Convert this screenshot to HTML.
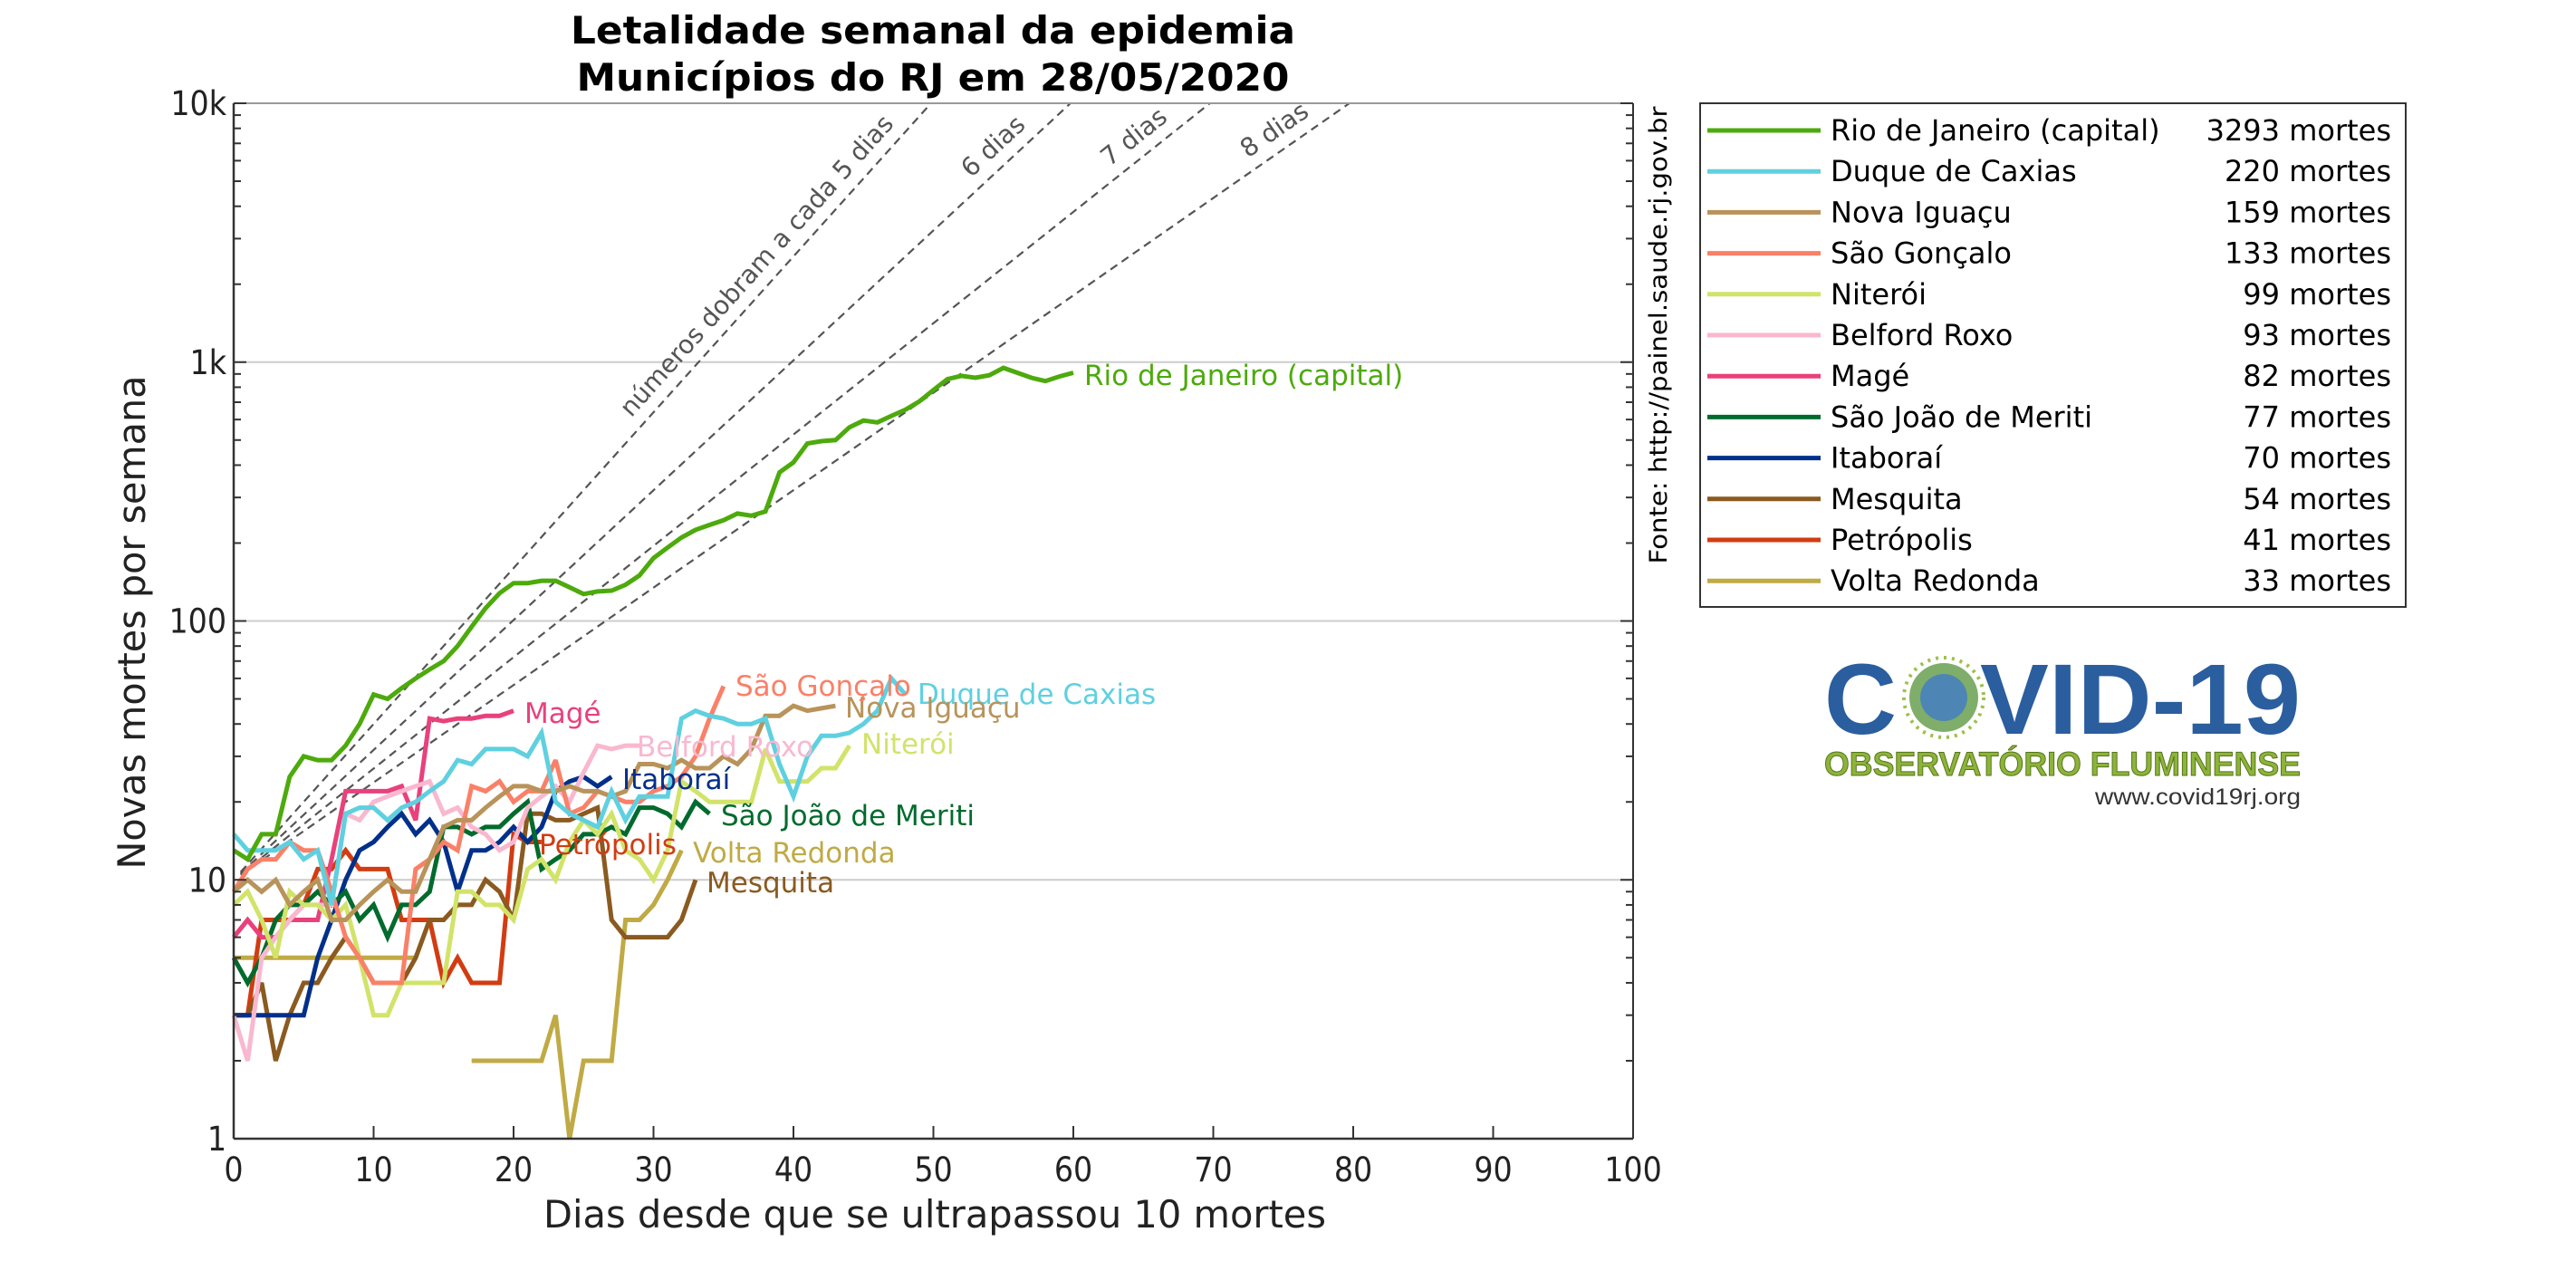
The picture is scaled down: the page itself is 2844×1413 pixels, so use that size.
<!DOCTYPE html>
<html><head><meta charset="utf-8"><title>Letalidade semanal</title>
<style>
html,body{margin:0;padding:0;background:#fff;}
svg{display:block;font-family:"DejaVu Sans","Liberation Sans",sans-serif;}
.cond{font-stretch:condensed;}
</style></head>
<body>
<svg id="chart" width="2844" height="1413" viewBox="0 0 2844 1413" xmlns="http://www.w3.org/2000/svg">
<rect width="2844" height="1413" fill="#fff"/>
<g font-weight="bold" font-size="42" text-anchor="middle" fill="#000" class="cond">
<text x="1030" y="48" textLength="800" lengthAdjust="spacingAndGlyphs">Letalidade semanal da epidemia</text>
<text x="1030" y="100" textLength="787" lengthAdjust="spacingAndGlyphs">Municípios do RJ em 28/05/2020</text>
</g>
<g id="grid"></g>
<g id="refs"></g>
<g id="series"></g>
<g id="axes"></g>
<g id="labels"></g>
<text transform="translate(160,687) rotate(-90)" text-anchor="middle" font-size="42" fill="#222" textLength="545" lengthAdjust="spacingAndGlyphs">Novas mortes por semana</text>
<text x="1032" y="1355" text-anchor="middle" font-size="42" fill="#222" class="cond" textLength="864" lengthAdjust="spacingAndGlyphs">Dias desde que se ultrapassou 10 mortes</text>
<text transform="translate(1840,370) rotate(-90)" text-anchor="middle" font-size="27" fill="#000" textLength="505" lengthAdjust="spacingAndGlyphs">Fonte: http://painel.saude.rj.gov.br</text>
<g id="legend">
<rect x="1877" y="114" width="779" height="556" fill="#fff" stroke="#333" stroke-width="2"/>
</g>
<g>
<text x="2014" y="810" font-family="Liberation Sans, sans-serif" font-weight="bold" font-size="110" fill="#2a5e9e" textLength="80" lengthAdjust="spacingAndGlyphs">C</text>
<circle cx="2146" cy="770" r="38" fill="#7fae6a"/>
<circle cx="2146" cy="770" r="26" fill="#4d86b4"/>
<circle cx="2146" cy="770" r="44" fill="none" stroke="#9cc04a" stroke-width="4" stroke-dasharray="3 6"/>
<text x="2186" y="810" font-family="Liberation Sans, sans-serif" font-weight="bold" font-size="110" fill="#2a5e9e" textLength="354" lengthAdjust="spacingAndGlyphs">VID-19</text>
<text x="2014" y="856" font-family="Liberation Sans, sans-serif" font-weight="bold" font-size="37" fill="#8cb43a" stroke="#56741a" stroke-width="1" textLength="526" lengthAdjust="spacingAndGlyphs">OBSERVATÓRIO FLUMINENSE</text>
<text x="2540" y="888" text-anchor="end" font-family="Liberation Sans, sans-serif" font-size="25" fill="#333" textLength="227" lengthAdjust="spacingAndGlyphs">www.covid19rj.org</text>
</g>
</svg>
<script>
const NS='http://www.w3.org/2000/svg';
const xTicks=[0,10,20,30,40,50,60,70,80,90,100];
const yTicks=[1,10,100,1000,10000];
const yTickLabels=['1','10','100','1k','10k'];
const doublingDays=[5,6,7,8];
const doublingLabels=['números dobram a cada 5 dias','6 dias','7 dias','8 dias'];
const names=['Rio de Janeiro (capital)','Duque de Caxias','Nova Iguaçu','São Gonçalo','Niterói','Belford Roxo','Magé','São João de Meriti','Itaboraí','Mesquita','Petrópolis','Volta Redonda'];
const totals=[3293,220,159,133,99,93,82,77,70,54,41,33];
const colors=['#4daa0c','#5fd0e0','#b8935a','#fa8068','#d2e36a','#f9b8cf','#e8417c','#006b2d','#00308a','#8a5a20','#d23c12','#c0aa45'];
const rio=[13,12,15,15,25,30,29,29,33,40,52,50,55,60,65,70,80,95,112,128,140,140,143,143,135,127,130,131,138,150,175,192,210,225,235,245,260,255,265,375,410,485,495,500,560,595,585,620,655,705,780,860,885,870,890,950,910,870,845,880,910];
const duque=[15,13,13,13,14,12,13,8,18,19,19,17,19,20,22,24,29,28,32,32,32,30,37,20,18,17,16,22,17,21,21,21,42,45,43,42,40,40,42,28,21,30,36,36,37,40,45,60,52];
const novaIguacu=[9,10,9,10,8,9,10,7,7,8,9,10,9,9,12,16,17,17,19,21,23,23,22,22,23,22,22,21,22,28,28,27,29,27,27,30,28,32,43,43,47,45,46,47];
const saoGoncalo=[9,11,12,12,14,13,13,9,6,5,4,4,4,11,12,14,13,23,22,24,20,22,22,29,18,19,22,21,20,20,22,23,25,30,42,56];
const niteroi=[8,9,7,5,9,8,8,7,8,5,3,3,4,4,4,4,9,9,8,8,7,11,12,10,14,17,15,18,13,12,10,13,24,22,20,20,20,20,32,24,24,24,27,27,33];
const belford=[3,2,5,6,7,8,8,8,18,17,20,21,22,23,24,18,19,16,15,13,14,19,21,23,20,26,33,32,33,33];
const mage=[6,7,6,6,7,7,7,12,22,22,22,22,23,17,42,41,42,42,43,43,45];
const meriti=[5,4,5,7,8,8,9,8,9,7,8,6,8,8,9,16,16,15,16,16,18,20,11,12,13,15,15,16,15,19,19,18,16,20,18];
const itaborai=[3,3,3,3,3,3,5,7,10,13,14,16,18,15,17,14,9,13,13,14,16,14,16,22,24,25,23,25];
const mesquita=[3,3,4,2,3,4,4,5,6,5,4,4,4,5,7,7,8,8,10,9,7,18,18,17,17,18,19,7,6,6,6,6,7,10];
const petropolis=[3,3,7,7,7,8,11,11,13,11,11,11,7,7,7,4,5,4,4,4,15,14,14];
const voltaRedonda=[5,5,5,5,5,5,5,5,5,5,5,5,5,5,null,null,null,2,2,2,2,2,2,3,1,2,2,2,7,7,8,10,13];
const allSeries=[rio,duque,novaIguacu,saoGoncalo,niteroi,belford,mage,meriti,itaborai,mesquita,petropolis,voltaRedonda];
const labelPos=[[1197,414],[1013,766],[933,781],[812,757],[951,821],[703,824],[579,787],[796,900],[687,860],[780,974],[595,932],[765,941]];

const L=258,R=1803,T=114,B=1257;
function xs(d){return L+(d/100)*(R-L);}
function ys(v){return B-(Math.log10(v)/4)*(B-T);}
function mk(tag,attrs,parent){const e=document.createElementNS(NS,tag);for(const k in attrs)e.setAttribute(k,attrs[k]);parent.appendChild(e);return e;}

const grid=document.getElementById('grid');
[10,100,1000].forEach(v=>{
  const g=mk('line',{x1:L,x2:R,y1:ys(v),y2:ys(v),stroke:'#cccccc','stroke-width':2},grid);
  
  
});

const refs=document.getElementById('refs');
doublingDays.forEach((n,i)=>{
  const dEnd=n*Math.log2(1000);
  const p=mk('line',{x1:xs(0.5),y1:ys(10*Math.pow(2,0.5/n)),x2:xs(dEnd),y2:ys(10000),stroke:'#555','stroke-width':2.2,'stroke-dasharray':'9 6'},refs);
  
  
  const ang=Math.atan2(ys(10)-ys(10000),xs(dEnd)-xs(0))*180/Math.PI;
  let dl,off;
  if(i===0){dl=38.5;off=-14;}else{dl=dEnd-4.5;off=-14;}
  const v=10*Math.pow(2,dl/n);
  const tx=xs(dl)+off*Math.sin(ang*Math.PI/180), ty=ys(v)+off*Math.cos(ang*Math.PI/180);
  const t=mk('text',{x:0,y:0,transform:'translate('+tx+','+ty+') rotate('+(-ang)+')','text-anchor':'middle','font-size':28,fill:'#555'},refs);
  t.textContent=doublingLabels[i];
  
  
});

const sg=document.getElementById('series');
allSeries.slice().reverse().forEach((s,ri)=>{
  const idx=allSeries.length-1-ri;
  let d='',pen=false;
  s.forEach((v,i)=>{
    if(v==null){pen=false;return;}
    d+=(pen?'L':'M')+xs(i).toFixed(1)+','+ys(v).toFixed(1);pen=true;
  });
  const p=mk('path',{d:d,fill:'none',stroke:colors[idx],'stroke-width':5,'stroke-linejoin':'miter','stroke-miterlimit':3},sg);
  
  
});

const lg=document.getElementById('labels');
names.forEach((n,i)=>{
  const t=mk('text',{x:labelPos[i][0],y:labelPos[i][1]+11,'font-size':31,fill:colors[i]},lg);
  t.textContent=n;
  
  
});

const ax=document.getElementById('axes');
mk('line',{x1:L,x2:R,y1:T,y2:T,stroke:'#999','stroke-width':2},ax);
mk('line',{x1:R,x2:R,y1:T,y2:B,stroke:'#333','stroke-width':2},ax);
mk('line',{x1:L,x2:L,y1:T,y2:B,stroke:'#333','stroke-width':2.5},ax);
mk('line',{x1:L,x2:R,y1:B,y2:B,stroke:'#333','stroke-width':2.5},ax);
for(let e=0;e<4;e++){for(let m=2;m<=9;m++){const y=ys(m*Math.pow(10,e));
  mk('line',{x1:L,x2:L+8,y1:y,y2:y,stroke:'#333','stroke-width':2},ax);
  mk('line',{x1:R,x2:R-8,y1:y,y2:y,stroke:'#333','stroke-width':2},ax);}}
yTicks.forEach((v,i)=>{
  const y=ys(v);
  mk('line',{x1:L,x2:L+14,y1:y,y2:y,stroke:'#333','stroke-width':2},ax);
  mk('line',{x1:R,x2:R-14,y1:y,y2:y,stroke:'#333','stroke-width':2},ax);
  const t=mk('text',{x:L-8,y:y+13,'text-anchor':'end','font-size':37,fill:'#222',class:'cond'},ax);
  t.textContent=yTickLabels[i];
  
  
});
xTicks.forEach(v=>{
  const x=xs(v);
  mk('line',{x1:x,x2:x,y1:B,y2:B-14,stroke:'#333','stroke-width':2},ax);
  const t=mk('text',{x:x,y:1304,'text-anchor':'middle','font-size':37,fill:'#222',class:'cond'},ax);
  t.textContent=v;
  
  
});

const leg=document.getElementById('legend');
names.forEach((n,i)=>{
  const y=144+i*45.2;
  const ln=mk('line',{x1:1885,x2:2010,y1:y,y2:y,stroke:colors[i],'stroke-width':5},leg);
  
  
  const t=mk('text',{x:2021,y:y+11,'font-size':32,fill:'#000'},leg);
  t.textContent=n;
  
  
  const c=mk('text',{x:2640,y:y+11,'font-size':32,fill:'#000','text-anchor':'end'},leg);
  c.textContent=totals[i]+' mortes';
  
  
});
</script>
</body></html>
